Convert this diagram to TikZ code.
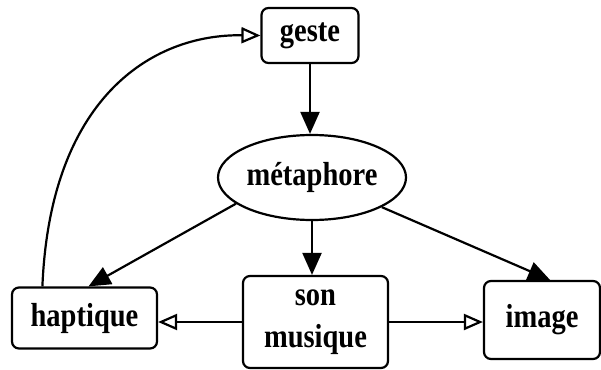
\documentclass[tikz,border=0pt]{standalone}
\usepackage{fontspec}
\usepackage{graphicx}
\setmainfont{Liberation Serif}
\usetikzlibrary{arrows.meta,shapes.geometric}
\newcommand\stt[1]{\scalebox{1}[1.17]{#1}}
\begin{document}
\begin{tikzpicture}[x=1pt,y=-1pt,
  every node/.style={font=\fontsize{28.5}{42}\selectfont\bfseries, inner sep=0pt, line width=2.2pt},
  rbox/.style={draw, rounded corners=7pt, align=center},
  conn/.style={line width=2.2pt},
  fill tip/.style={-{Triangle[length=22pt,width=19pt]}},
  open tip/.style={-{Triangle[open,length=19pt,width=16pt]}}]
\useasboundingbox (0,0) rectangle (601,369);
\node[rbox, minimum width=97pt, minimum height=55pt] (geste) at (310,35.5) {\stt{geste}};
\node[draw, ellipse, minimum width=188pt, minimum height=85pt] (meta) at (312,177.5) {\stt{métaphore}};
\node[rbox, minimum width=145pt, minimum height=61pt] (hap) at (84.5,318) {\stt{haptique}};
\node[rbox, minimum width=145pt, minimum height=92pt] (son) at (315.5,322) {\stt{son}\\\stt{musique}};
\node[rbox, minimum width=116pt, minimum height=78pt] (img) at (542,320) {\stt{image}};
\draw[conn, fill tip] (geste.south) -- (geste.south |- meta.north);
\draw[conn, fill tip] (meta.south) -- (meta.south |- son.north);
\draw[conn, fill tip] (meta.199) -- ([xshift=4pt]hap.north);
\draw[conn, fill tip] (meta.337) -- ([xshift=8pt]img.north);
\draw[conn, open tip] (son.west) -- (son.west -| hap.east);
\draw[conn, open tip] (son.east) -- (son.east -| img.west);
\draw[conn, open tip] ([xshift=31.5pt]hap.north west) .. controls (50,100) and (150,34) .. (geste.west);
\end{tikzpicture}
\end{document}
